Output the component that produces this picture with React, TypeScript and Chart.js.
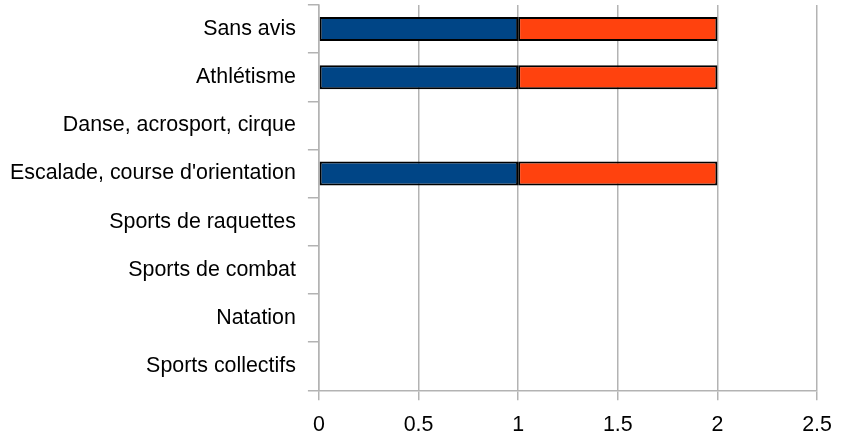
import React, { useEffect, useRef } from "react";
import { Chart, registerables } from "chart.js";

Chart.register(...registerables);

const categories = [
  "Sans avis",
  "Athlétisme",
  "Danse, acrosport, cirque",
  "Escalade, course d'orientation",
  "Sports de raquettes",
  "Sports de combat",
  "Natation",
  "Sports collectifs",
];
const seriesA = [1, 1, 0, 1, 0, 0, 0, 0];
const seriesB = [1, 1, 0, 1, 0, 0, 0, 0];
const xTicks = [0, 0.5, 1, 1.5, 2, 2.5];

export default function App() {
  const ref = useRef<HTMLCanvasElement | null>(null);
  useEffect(() => {
    if (!ref.current) return;
    const grid = "#b3b3b3";
    const font = { family: "'Liberation Sans', Arial, sans-serif", size: 21.4 };
    const chart = new Chart(ref.current, {
      type: "bar",
      data: {
        labels: categories,
        datasets: [
          {
            label: "A",
            data: seriesA,
            backgroundColor: "#004586",
            borderColor: "#000000",
            borderWidth: 2,
            borderSkipped: false,
            barPercentage: 0.5,
            categoryPercentage: 1,
          },
          {
            label: "B",
            data: seriesB,
            backgroundColor: "#ff420e",
            borderColor: "#000000",
            borderWidth: 2,
            borderSkipped: false,
            barPercentage: 0.5,
            categoryPercentage: 1,
          },
        ],
      },
      options: {
        indexAxis: "y",
        animation: false,
        responsive: false,
        maintainAspectRatio: false,
        layout: { padding: { top: 5, right: 27, left: -2, bottom: -13 } },
        plugins: { legend: { display: false }, tooltip: { enabled: false } },
        scales: {
          x: {
            stacked: true,
            min: 0,
            max: 2.5,
            afterBuildTicks: (axis: any) => {
              axis.ticks = xTicks.map((v) => ({ value: v }));
            },
            afterFit: (s: any) => {
              s.paddingLeft = 0;
              s.paddingRight = 0;
            },
            grid: { color: grid, lineWidth: 1.5, tickLength: 10 },
            border: { color: grid, width: 1.5 },
            ticks: { color: "#000", font, padding: 12, callback: (v: any) => String(v) },
          },
          y: {
            stacked: true,
            afterFit: (s: any) => {
              s.paddingTop = 0;
              s.paddingBottom = 0;
            },
            grid: { color: grid, lineWidth: 1.5, tickLength: 11, drawOnChartArea: false, offset: true },
            border: { color: grid, width: 1.5 },
            ticks: { color: "#000", font, padding: 12 },
          },
        },
      },
    });
    return () => chart.destroy();
  }, []);
  return (
    <div style={{ position: "fixed", left: 0, top: 0, width: 844, height: 437, background: "#fff" }}>
      <canvas ref={ref} width={844} height={437} style={{ width: 844, height: 437 }} />
    </div>
  );
}
